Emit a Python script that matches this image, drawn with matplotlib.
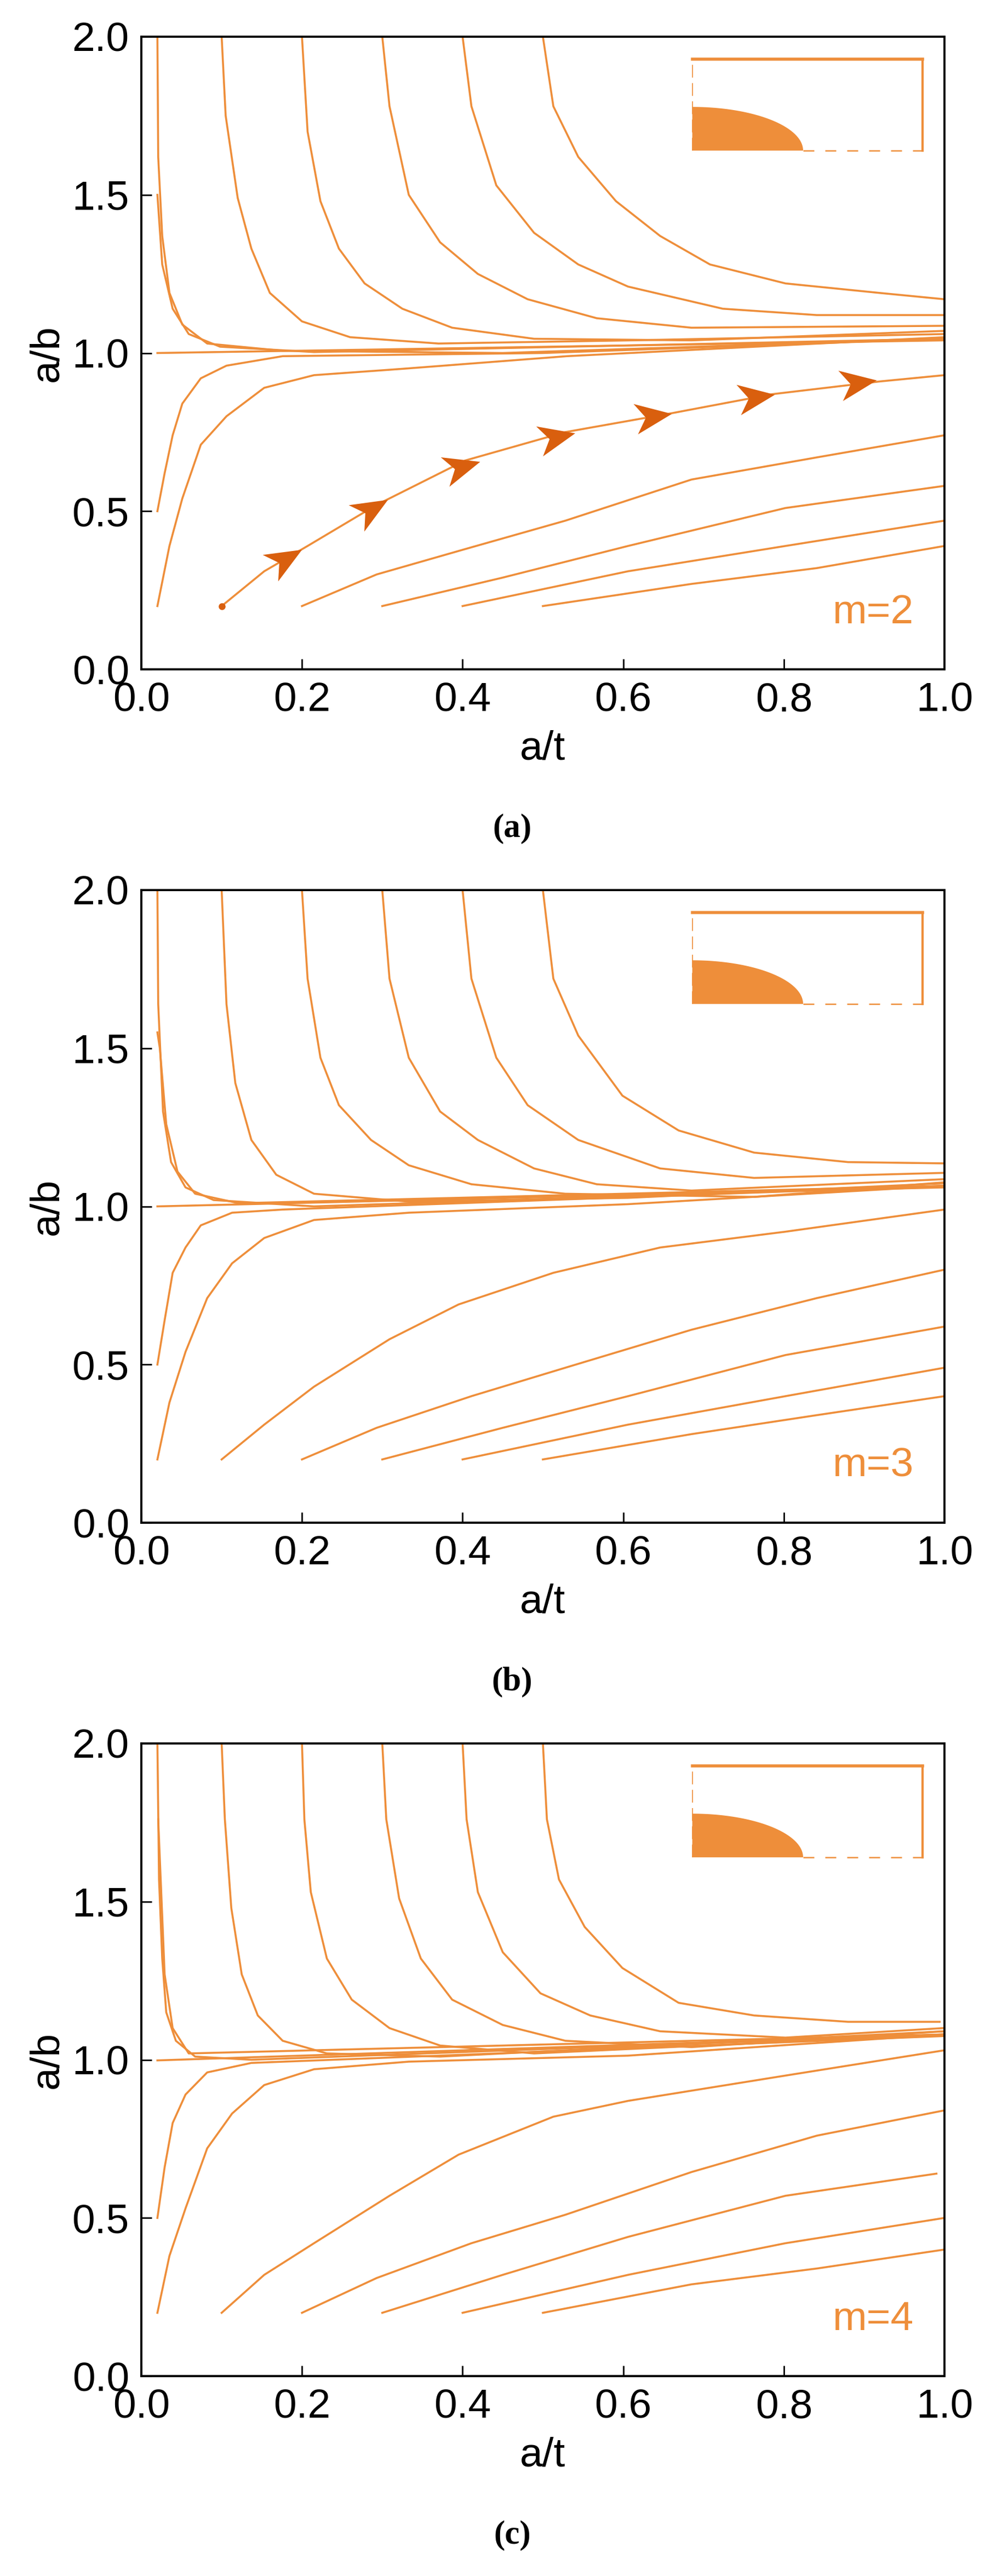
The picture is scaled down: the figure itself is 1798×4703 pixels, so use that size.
import matplotlib
matplotlib.use("Agg")
import matplotlib.pyplot as plt
from matplotlib.patches import Polygon
from matplotlib.path import Path
from matplotlib.markers import MarkerStyle
from matplotlib.transforms import Affine2D
import numpy as np

plt.rcParams['font.family'] = ['Liberation Sans', 'DejaVu Sans']

ORANGE = '#EE8E3A'
DARK = '#D95F0E'

M_LABELS = ['m=2', 'm=3', 'm=4']
PANEL_TAGS = ['a', 'b', 'c']
XTICKS = [0.0, 0.2, 0.4, 0.6, 0.8, 1.0]
YTICKS = [0.0, 0.5, 1.0, 1.5, 2.0]

CURVES_M2 = [
    ([0.02, 0.021, 0.026, 0.035, 0.051, 0.082, 0.176, 0.45, 1.0], [2.0, 1.62, 1.37, 1.19, 1.09, 1.03, 1.007, 1.0, 1.045]),
    ([0.02, 0.026, 0.039, 0.059, 0.098, 0.215, 1.0], [1.5, 1.28, 1.14, 1.06, 1.02, 1.003, 1.045]),
    ([0.02, 1.0], [1.0, 1.04]),
    ([0.02, 0.029, 0.039, 0.051, 0.074, 0.106, 0.176, 0.5, 1.0], [0.5, 0.62, 0.74, 0.84, 0.92, 0.96, 0.99, 1.0, 1.045]),
    ([0.02, 0.035, 0.051, 0.074, 0.106, 0.153, 0.215, 0.325, 0.53, 1.0], [0.2, 0.39, 0.54, 0.71, 0.80, 0.89, 0.93, 0.95, 0.99, 1.05]),
    ([0.1, 0.153, 0.207, 0.293, 0.403, 0.528, 0.661, 0.786, 0.919, 1.0], [0.2, 0.31, 0.39, 0.52, 0.66, 0.75, 0.81, 0.87, 0.91, 0.93]),
    ([0.2, 0.293, 0.403, 0.528, 0.685, 0.841, 1.0], [0.2, 0.30, 0.38, 0.47, 0.60, 0.67, 0.74]),
    ([0.3, 0.45, 0.606, 0.802, 1.0], [0.2, 0.29, 0.39, 0.51, 0.58]),
    ([0.4, 0.606, 0.802, 1.0], [0.2, 0.31, 0.39, 0.47]),
    ([0.5, 0.685, 0.841, 1.0], [0.2, 0.27, 0.32, 0.39]),
    ([0.1, 0.105, 0.12, 0.137, 0.16, 0.2, 0.26, 0.37, 0.61, 1.0], [2.0, 1.75, 1.49, 1.33, 1.19, 1.10, 1.05, 1.03, 1.04, 1.06]),
    ([0.2, 0.207, 0.223, 0.246, 0.278, 0.325, 0.387, 0.489, 0.685, 1.0], [2.0, 1.70, 1.48, 1.33, 1.22, 1.14, 1.08, 1.045, 1.04, 1.07]),
    ([0.3, 0.309, 0.333, 0.372, 0.419, 0.481, 0.567, 0.685, 1.0], [2.0, 1.78, 1.5, 1.35, 1.25, 1.17, 1.11, 1.08, 1.086]),
    ([0.4, 0.411, 0.442, 0.489, 0.544, 0.606, 0.724, 0.841, 1.0], [2.0, 1.78, 1.53, 1.38, 1.28, 1.21, 1.14, 1.12, 1.12]),
    ([0.5, 0.513, 0.544, 0.591, 0.646, 0.708, 0.802, 0.919, 1.0], [2.0, 1.78, 1.62, 1.48, 1.37, 1.28, 1.22, 1.19, 1.17]),
]

CURVES_M3 = [
    ([0.02, 0.021, 0.027, 0.037, 0.055, 0.09, 0.215, 1.0], [2.0, 1.64, 1.30, 1.14, 1.06, 1.02, 1.0, 1.065]),
    ([0.02, 0.023, 0.031, 0.045, 0.067, 0.121, 1.0], [1.55, 1.50, 1.26, 1.11, 1.04, 1.01, 1.065]),
    ([0.02, 1.0], [1.0, 1.06]),
    ([0.02, 0.029, 0.039, 0.055, 0.074, 0.113, 0.176, 1.0], [0.5, 0.64, 0.79, 0.87, 0.94, 0.98, 0.99, 1.065]),
    ([0.02, 0.035, 0.055, 0.082, 0.113, 0.153, 0.215, 0.333, 0.606, 1.0], [0.2, 0.38, 0.54, 0.71, 0.82, 0.90, 0.957, 0.98, 1.007, 1.065]),
    ([0.1, 0.153, 0.215, 0.309, 0.395, 0.513, 0.646, 0.802, 1.0], [0.2, 0.31, 0.43, 0.58, 0.69, 0.79, 0.87, 0.92, 0.99]),
    ([0.2, 0.293, 0.411, 0.528, 0.685, 0.841, 1.0], [0.2, 0.30, 0.40, 0.49, 0.61, 0.71, 0.80]),
    ([0.3, 0.45, 0.606, 0.802, 1.0], [0.2, 0.30, 0.40, 0.53, 0.62]),
    ([0.4, 0.606, 0.802, 1.0], [0.2, 0.31, 0.40, 0.49]),
    ([0.5, 0.685, 0.841, 1.0], [0.2, 0.28, 0.34, 0.40]),
    ([0.1, 0.106, 0.117, 0.137, 0.168, 0.215, 0.333, 0.606, 1.0], [2.0, 1.64, 1.39, 1.21, 1.10, 1.04, 1.015, 1.027, 1.073]),
    ([0.2, 0.207, 0.223, 0.246, 0.286, 0.333, 0.411, 0.528, 0.763, 1.0], [2.0, 1.72, 1.47, 1.32, 1.21, 1.13, 1.07, 1.04, 1.03, 1.076]),
    ([0.3, 0.309, 0.333, 0.372, 0.419, 0.489, 0.567, 0.685, 1.0], [2.0, 1.72, 1.47, 1.30, 1.21, 1.12, 1.07, 1.05, 1.086]),
    ([0.4, 0.411, 0.442, 0.481, 0.544, 0.646, 0.763, 1.0], [2.0, 1.72, 1.47, 1.32, 1.21, 1.12, 1.09, 1.106]),
    ([0.5, 0.513, 0.544, 0.599, 0.669, 0.763, 0.880, 1.0], [2.0, 1.72, 1.54, 1.35, 1.24, 1.17, 1.14, 1.136]),
]

CURVES_M4 = [
    ([0.02, 0.022, 0.026, 0.031, 0.043, 0.067, 0.137, 1.0], [2.0, 1.57, 1.32, 1.15, 1.06, 1.01, 1.0, 1.08]),
    ([0.021, 0.029, 0.039, 0.059, 1.0], [1.76, 1.27, 1.10, 1.02, 1.08]),
    ([0.02, 1.0], [0.998, 1.08]),
    ([0.02, 0.029, 0.039, 0.055, 0.082, 0.137, 1.0], [0.5, 0.66, 0.80, 0.89, 0.96, 0.99, 1.075]),
    ([0.02, 0.035, 0.055, 0.082, 0.113, 0.153, 0.215, 0.333, 0.606, 1.0], [0.2, 0.38, 0.53, 0.72, 0.83, 0.92, 0.97, 0.994, 1.013, 1.08]),
    ([0.1, 0.153, 0.215, 0.309, 0.395, 0.513, 0.606, 0.802, 1.0], [0.2, 0.32, 0.42, 0.57, 0.70, 0.82, 0.87, 0.95, 1.03]),
    ([0.2, 0.293, 0.411, 0.528, 0.685, 0.841, 1.0], [0.2, 0.31, 0.42, 0.51, 0.645, 0.76, 0.84]),
    ([0.3, 0.45, 0.606, 0.802, 0.99], [0.2, 0.32, 0.44, 0.57, 0.64]),
    ([0.4, 0.606, 0.802, 1.0], [0.2, 0.32, 0.42, 0.50]),
    ([0.5, 0.685, 0.841, 1.0], [0.2, 0.29, 0.34, 0.40]),
    ([0.1, 0.104, 0.112, 0.125, 0.145, 0.176, 0.231, 0.372, 1.0], [2.0, 1.76, 1.48, 1.27, 1.14, 1.06, 1.02, 1.01, 1.09]),
    ([0.2, 0.203, 0.211, 0.231, 0.262, 0.309, 0.372, 0.489, 1.0], [2.0, 1.76, 1.53, 1.32, 1.19, 1.10, 1.045, 1.02, 1.08]),
    ([0.3, 0.305, 0.321, 0.348, 0.387, 0.45, 0.528, 0.685, 1.0], [2.0, 1.76, 1.51, 1.32, 1.19, 1.11, 1.06, 1.04, 1.09]),
    ([0.4, 0.405, 0.419, 0.45, 0.497, 0.559, 0.646, 0.802, 0.998], [2.0, 1.76, 1.53, 1.34, 1.21, 1.14, 1.09, 1.07, 1.10]),
    ([0.5, 0.505, 0.52, 0.552, 0.599, 0.669, 0.763, 0.880, 0.994], [2.0, 1.76, 1.57, 1.42, 1.29, 1.18, 1.14, 1.12, 1.12]),
]

# arrow heads on the highlighted m=2 trajectory: centre points and tip points
ARROW_X = [0.180, 0.287, 0.400, 0.518, 0.638, 0.766, 0.893]
ARROW_Y = [0.350, 0.508, 0.640, 0.735, 0.800, 0.860, 0.905]
ARROW_TIP_X = [0.207, 0.315, 0.427, 0.544, 0.665, 0.793, 0.919]
ARROW_TIP_Y = [0.390, 0.550, 0.660, 0.750, 0.810, 0.870, 0.915]

ALL_CURVES = [CURVES_M2, CURVES_M3, CURVES_M4]

fig = plt.figure(figsize=(17.98, 47.03), dpi=100)
bottoms = [1 - 1222 / 4703, 1 - 2780 / 4703, 1 - 4338 / 4703]
left, width, height = 258 / 1798, 1466 / 1798, 1155 / 4703

arrow_path = Path([(0.5, 0.0), (-0.5, 0.42), (-0.22, 0.0), (-0.5, -0.42), (0.5, 0.0)],
                  [Path.MOVETO, Path.LINETO, Path.LINETO, Path.LINETO, Path.CLOSEPOLY])

for i, curves in enumerate(ALL_CURVES):
    ax = fig.add_axes([left, bottoms[i], width, height])
    ax.set_xlim(0, 1)
    ax.set_ylim(0, 2)
    for xs, ys in curves:
        ax.plot(xs, ys, color=ORANGE, lw=2.6, solid_joinstyle='round')
    if i == 0:
        ax.plot([0.1], [0.2], 'o', color=DARK, ms=8)
        for cx, cy, hx, hy in zip(ARROW_X, ARROW_Y, ARROW_TIP_X, ARROW_TIP_Y):
            p0 = ax.transData.transform((cx, cy))
            p1 = ax.transData.transform((hx, hy))
            ang = np.degrees(np.arctan2(p1[1] - p0[1], p1[0] - p0[0]))
            mk = MarkerStyle(arrow_path, transform=Affine2D().rotate_deg(ang))
            ax.plot([cx], [cy], marker=mk, ms=48, color=DARK, mec=DARK, mew=0, ls='none')
    ax.set_xticks(XTICKS)
    ax.set_yticks(YTICKS)
    ax.set_xticklabels([f'{v:.1f}' for v in XTICKS])
    ax.set_yticklabels([f'{v:.1f}' for v in YTICKS])
    ax.tick_params(direction='in', length=14, width=2, labelsize=54, pad=16,
                   top=False, right=False)
    for s in ax.spines.values():
        s.set_linewidth(2.8)
    ax.set_xlabel('a/t', fontsize=54, labelpad=14)
    ax.set_ylabel('a/b', fontsize=54, labelpad=8)
    ax.text(0.962, 0.06, M_LABELS[i], transform=ax.transAxes, fontsize=54,
            color=ORANGE, ha='right', va='bottom')

    # inset sketch: quarter-ellipse crack in a plate
    x0, x1, y0, y1 = 0.686, 0.973, 0.820, 0.9645
    tr = ax.transAxes
    th = np.linspace(0, np.pi / 2, 60)
    verts = [(x0, y0)] + [(x0 + 0.138 * np.cos(t), y0 + 0.069 * np.sin(t)) for t in th]
    ax.add_patch(Polygon(verts, closed=True, transform=tr, color=ORANGE, lw=0, zorder=3))
    ax.plot([x0, x1], [y1, y1], transform=tr, color=ORANGE, lw=4, zorder=5)
    ax.plot([x1, x1], [y0, y1], transform=tr, color=ORANGE, lw=3, zorder=5)
    ax.plot([x0, x0], [y0, y1], transform=tr, color=ORANGE, lw=1.2,
            ls=(0, (14, 6)), zorder=5)
    ax.plot([0.824, x1], [y0, y0], transform=tr, color=ORANGE, lw=1.8,
            ls=(0, (8, 8)), zorder=5)

    fig.text(0.5 + 0.02, bottoms[i] - 291 / 4703, '(' + PANEL_TAGS[i] + ')',
             ha='center', va='center', fontsize=44, fontweight='bold',
             family='Liberation Serif')

fig.savefig('out.png', dpi=100, facecolor='white')
